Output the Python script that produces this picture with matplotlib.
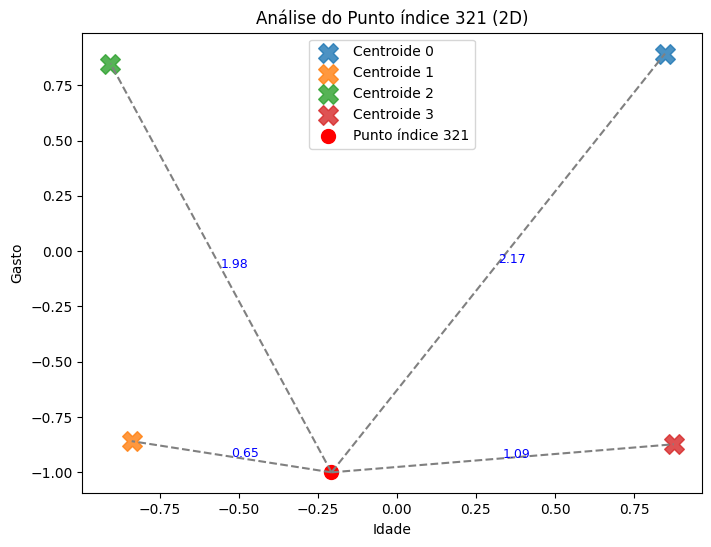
import matplotlib
matplotlib.use('Agg')
import matplotlib.pyplot as plt
import numpy as np

# centroides (Idade, Gasto)
centroid_names = ['Centroide 0', 'Centroide 1', 'Centroide 2', 'Centroide 3']
centroid_x = [0.848, -0.839, -0.906, 0.876]
centroid_y = [0.893, -0.859, 0.848, -0.873]
centroid_colors = ['tab:blue', 'tab:orange', 'tab:green', 'tab:red']

# ponto analisado
point_label = 'Punto índice 321'
point_x = -0.207
point_y = -1.0

fig = plt.figure(figsize=(7.11, 5.47), dpi=100)
ax = fig.add_axes([0.1158, 0.0982, 0.8715, 0.842])

for name, cx, cy, c in zip(centroid_names, centroid_x, centroid_y, centroid_colors):
    ax.scatter(cx, cy, marker='X', s=200, color=c, alpha=0.8, label=name)

ax.scatter(point_x, point_y, color='red', s=100, label=point_label)

# linhas ate cada centroide com a distancia
for cx, cy in zip(centroid_x, centroid_y):
    ax.plot([point_x, cx], [point_y, cy], 'k--', color='gray', linewidth=1.5)
    dist = np.hypot(cx - point_x, cy - point_y)
    ax.text((point_x + cx) / 2, (point_y + cy) / 2, f'{dist:.2f}', color='blue', fontsize=9)

ax.set_title('Análise do Punto índice 321 (2D)')
ax.set_xlabel('Idade')
ax.set_ylabel('Gasto')
ax.legend(loc='upper center')

fig.savefig('out.png', dpi=100)
